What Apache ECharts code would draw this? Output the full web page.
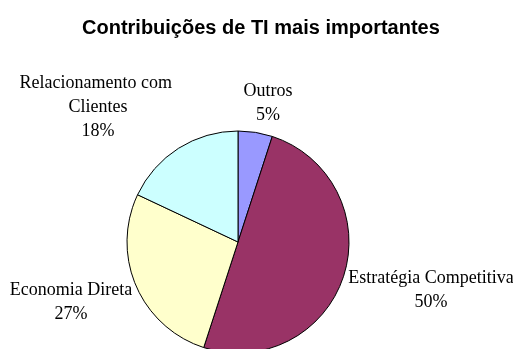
<!DOCTYPE html>
<html>
<head>
<meta charset="utf-8">
<script src="https://cdn.jsdelivr.net/npm/echarts@6/dist/echarts.min.js"></script>
<style>html,body{margin:0;padding:0;background:#fff}#c{width:513px;height:349px}</style>
</head>
<body>
<div id="c"></div>
<script>
const categories = ['Outros', 'Estratégia Competitiva', 'Economia Direta', 'Relacionamento com Clientes'];
const values = [5, 50, 27, 18];
const colors = ['#9999FF', '#993366', '#FFFFCC', '#CCFFFF'];
const titleText = 'Contribuições de TI mais importantes';

// label anchor points (text block centers) in pixels
const labelAnchors = [[268, 103], [431, 290], [71, 302], [98, 107]];

const chart = echarts.init(document.getElementById('c'), null, {renderer: 'canvas'});
chart.setOption({
  animation: false,
  backgroundColor: '#fff',
  title: {
    text: titleText,
    left: 82,
    top: 18,
    padding: 0,
    textStyle: {fontFamily: 'Liberation Sans', fontWeight: 'bold', fontSize: 20, color: '#000'}
  },
  series: [{
    type: 'pie',
    center: [238, 242],
    radius: 111,
    startAngle: 90,
    clockwise: true,
    silent: true,
    data: categories.map((n, i) => ({
      name: n,
      value: values[i],
      itemStyle: {color: colors[i]},
      label: i === 3 ? {width: 165, overflow: 'break'} : {width: 300, overflow: 'none'}
    })),
    itemStyle: {borderColor: '#000', borderWidth: 1},
    label: {
      show: true,
      position: 'outside',
      formatter: '{b}\n{d}%',
      fontFamily: 'Liberation Serif',
      fontSize: 18,
      lineHeight: 24,
      color: '#000',
      align: 'center'
    },
    labelLine: {show: false},
    labelLayout: function (p) {
      const a = labelAnchors[p.dataIndex];
      return {x: a[0], y: a[1], align: 'center', verticalAlign: 'middle'};
    }
  }]
});
</script>
</body>
</html>
